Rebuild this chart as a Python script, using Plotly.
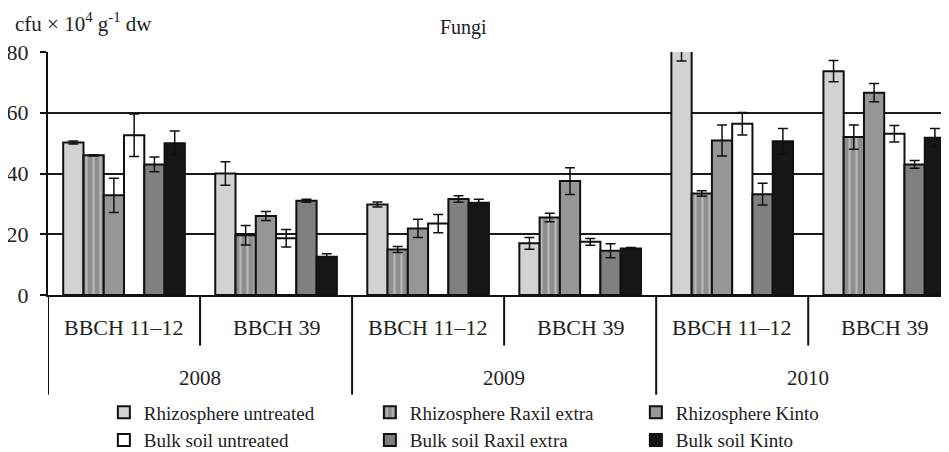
import plotly.graph_objects as go

# ---- data ----
stage_labels = ["BBCH 11–12", "BBCH 39", "BBCH 11–12", "BBCH 39", "BBCH 11–12", "BBCH 39"]
year_labels = ["2008", "2009", "2010"]
series_names = ["Rhizosphere untreated", "Rhizosphere Raxil extra", "Rhizosphere Kinto",
                "Bulk soil untreated", "Bulk soil Raxil extra", "Bulk soil Kinto"]

rhizo_untreated = [50.2, 40.0, 29.8, 17.0, 82.0, 73.7]
rhizo_untreated_err = [0.5, 3.9, 0.8, 1.9, 5.0, 3.5]
rhizo_raxil = [46.0, 19.7, 15.0, 25.5, 33.4, 52.0]
rhizo_raxil_err = [0.2, 3.2, 1.0, 1.4, 0.9, 4.0]
rhizo_kinto = [32.8, 26.0, 21.9, 37.5, 50.9, 66.6]
rhizo_kinto_err = [5.6, 1.5, 3.0, 4.4, 5.1, 3.0]
bulk_untreated = [52.6, 18.7, 23.5, 17.5, 56.4, 53.1]
bulk_untreated_err = [7.0, 2.9, 3.0, 1.1, 3.7, 2.7]
bulk_raxil = [43.0, 31.0, 31.6, 14.6, 33.2, 43.0]
bulk_raxil_err = [2.4, 0.5, 1.1, 2.3, 3.6, 1.3]
bulk_kinto = [50.0, 12.6, 30.4, 15.3, 50.6, 51.8]
bulk_kinto_err = [4.0, 1.0, 1.1, 0.3, 4.2, 3.0]

y_ticks = [0, 20, 40, 60, 80]

# ---- styling ----
FONT = "Liberation Serif, Times New Roman, serif"
values = [rhizo_untreated, rhizo_raxil, rhizo_kinto, bulk_untreated, bulk_raxil, bulk_kinto]
errors = [rhizo_untreated_err, rhizo_raxil_err, rhizo_kinto_err,
          bulk_untreated_err, bulk_raxil_err, bulk_kinto_err]
colors = ["#d2d2d2", "#8e8e8e", "#969696", "#ffffff", "#808080", "#161616"]
patterns = [None, dict(shape="|", fgcolor="#e4e4e4", size=7, solidity=0.3), None, None, None, None]

x_pos = list(range(len(stage_labels)))

fig = go.Figure()
for name, v, e, c, p in zip(series_names, values, errors, colors, patterns):
    marker = dict(color=c, line=dict(color="#111111", width=2))
    if p:
        marker["pattern"] = p
    fig.add_trace(go.Bar(
        x=x_pos, y=v, name=name, marker=marker,
        error_y=dict(type="data", array=e, color="#111111", thickness=1.5, width=5),
    ))

shapes = []
# dividers below axis: short between stages, long between years
for i in range(len(stage_labels)):
    xb = i - 0.5
    long_div = (i % 2 == 0)
    shapes.append(dict(type="line", xref="x", yref="paper", x0=xb, x1=xb,
                       y0=0, y1=-0.41 if long_div else -0.208,
                       line=dict(color="#111111", width=2)))

annotations = []
for i, lab in enumerate(stage_labels):
    annotations.append(dict(x=i, y=-0.1355, xref="x", yref="paper", text=lab,
                            showarrow=False, font=dict(family=FONT, size=22, color="#222"),
                            xanchor="center", yanchor="middle"))
for j, yr in enumerate(year_labels):
    annotations.append(dict(x=2 * j + 0.5, y=-0.341, xref="x", yref="paper", text=yr,
                            showarrow=False, font=dict(family=FONT, size=21, color="#222"),
                            xanchor="center", yanchor="middle"))
annotations.append(dict(x=0.461, y=1.10, xref="paper", yref="paper", text="Fungi",
                        showarrow=False, font=dict(family=FONT, size=20, color="#222"),
                        xanchor="center", yanchor="middle"))
annotations.append(dict(x=-0.0385, y=1.121, xref="paper", yref="paper",
                        text="cfu × 10<sup>4</sup> g<sup>-1</sup> dw",
                        showarrow=False, font=dict(family=FONT, size=21, color="#222"),
                        xanchor="left", yanchor="middle"))

fig.update_layout(
    width=941, height=444,
    margin=dict(l=39.7, r=0, t=43.5, b=157, autoexpand=False),
    paper_bgcolor="white", plot_bgcolor="white",
    barmode="group", bargap=0.2, bargroupgap=0,
    font=dict(family=FONT, size=19, color="#222"),
    showlegend=True,
    legend=dict(orientation="h", x=0.062, xanchor="left", y=-0.405, yanchor="top",
                entrywidth=221, entrywidthmode="pixels",
                font=dict(family=FONT, size=19, color="#222"),
                itemsizing="constant", tracegroupgap=0, bgcolor="rgba(0,0,0,0)"),
    shapes=shapes, annotations=annotations,
)
fig.update_xaxes(range=[-0.5, 5.426], showticklabels=False, ticks="",
                 showgrid=False, zeroline=False,
                 showline=True, linecolor="#111111", linewidth=2)
fig.update_yaxes(range=[0, 80], tickvals=y_ticks, ticks="outside", ticklen=6,
                 tickcolor="#111111", tickwidth=2, ticklabelstandoff=7,
                 tickfont=dict(family=FONT, size=22, color="#222"),
                 showgrid=True, gridcolor="#1a1a1a", gridwidth=2,
                 zeroline=False, showline=True, linecolor="#111111", linewidth=2)

fig.write_html("out.html")
